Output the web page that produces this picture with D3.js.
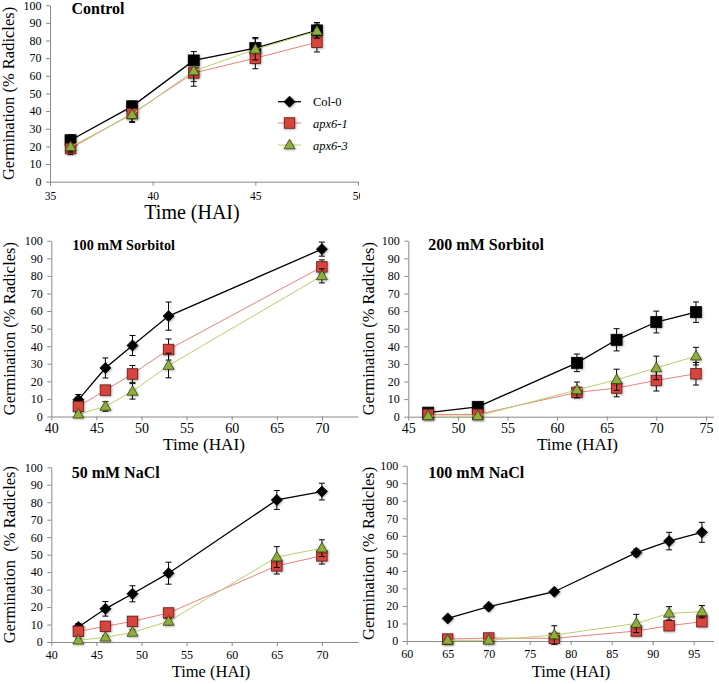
<!DOCTYPE html>
<html><head><meta charset="utf-8">
<script src="https://cdn.jsdelivr.net/npm/d3@7"></script>
<style>body{margin:0;background:#fff}svg text{font-family:"Liberation Serif","Times New Roman",serif}</style>
</head><body><svg id="c" width="719" height="684"></svg>
<script>
const seriesNames = ["Col-0", "apx6-1", "apx6-3"];
const yTicks = [0, 10, 20, 30, 40, 50, 60, 70, 80, 90, 100];

// Control
const controlTime = [36, 39, 42, 45, 48];
const controlCol0 = [23.5, 42.7, 68.7, 75.7, 85.7];
const controlCol0Err = [3, 3, 5, 6, 4.5];
const controlApx61 = [18.8, 38.6, 61.6, 70, 79];
const controlApx61Err = [3.5, 5, 7.5, 6, 5.5];
const controlApx63 = [19.8, 38, 62.7, 75, 85.3];
const controlApx63Err = [3, 4, 6, 6, 4];
const controlXTicks = [35, 40, 45, 50];

// 100 mM Sorbitol
const sorb100Time = [43, 46, 49, 53, 70];
const sorb100Col0 = [9.5, 27.6, 40.4, 57.1, 95.2];
const sorb100Col0Err = [3, 5.7, 5.7, 8, 4];
const sorb100Apx61 = [5.7, 15, 24.2, 38.1, 85.1];
const sorb100Apx61Err = [3, 2, 4.8, 6, 4];
const sorb100Apx63 = [1.3, 5.7, 14.3, 29, 80];
const sorb100Apx63Err = [1, 2.7, 4.4, 7, 4];
const sorb100XTicks = [40, 45, 50, 55, 60, 65, 70];

// 200 mM Sorbitol
const sorb200Time = [47, 52, 62, 66, 70, 74];
const sorb200Col0 = [2.3, 5.6, 30.6, 43.7, 53.8, 59.4];
const sorb200Col0Err = [1, 1, 5, 6.3, 6.2, 5.8];
const sorb200Apx61 = [1.3, 1.3, 13.8, 16.3, 20.6, 24.4];
const sorb200Apx61Err = [1, 1, 3, 5, 6, 6.4];
const sorb200Apx63 = [0.4, 0.4, 15.2, 21, 27.7, 34.4];
const sorb200Apx63Err = [0.5, 0.5, 4.5, 6, 6.7, 5];
const sorb200XTicks = [45, 50, 55, 60, 65, 70, 75];

// 50 mM NaCl
const nacl50Time = [43, 46, 49, 53, 65, 70];
const nacl50Col0 = [8.6, 19, 27.6, 39.4, 81.3, 86.1];
const nacl50Col0Err = [2, 4.2, 4.6, 6.3, 5.4, 4.8];
const nacl50Apx61 = [6.1, 9, 11.8, 16.6, 43.6, 49.3];
const nacl50Apx61Err = [2, 2, 2, 2, 4.7, 4.7];
const nacl50Apx63 = [1, 2.7, 5.5, 11.8, 48.6, 53.7];
const nacl50Apx63Err = [1, 1, 1.5, 2, 6, 4.8];
const nacl50XTicks = [40, 45, 50, 55, 60, 65, 70];

// 100 mM NaCl
const nacl100Time = [65, 70, 78, 88, 92, 96];
const nacl100Col0 = [12.9, 19.6, 28.1, 50.4, 57, 62];
const nacl100Col0Err = [1, 1, 1, 2, 5, 5.7];
const nacl100Apx61 = [1.1, 1.7, 1.5, 5.7, 8.7, 11];
const nacl100Apx61Err = [1, 2, 1, 1, 2.5, 2.5];
const nacl100Apx63 = [0.4, 0.4, 3.4, 10, 15.8, 16.7];
const nacl100Apx63Err = [0.5, 0.5, 5.3, 5.2, 3.8, 3.5];
const nacl100XTicks = [60, 65, 70, 75, 80, 85, 90, 95];

const panelTitles = ["Control", "100 mM Sorbitol", "200 mM Sorbitol", "50 mM NaCl", "100 mM NaCl"];
const yTitles = ["Germination (% Radicles)", "Germination (% Radicles)", "Germination (% Radicles)", "Germination\u00a0\u00a0(% Radicles)", "Germination (% Radicles)"];
const xTitle = "Time (HAI)";

// build panel table from arrays
const panelData = [
  {time: controlTime, vals: [controlCol0, controlApx61, controlApx63], errs: [controlCol0Err, controlApx61Err, controlApx63Err], xTicks: controlXTicks, xDomain: [35, 50]},
  {time: sorb100Time, vals: [sorb100Col0, sorb100Apx61, sorb100Apx63], errs: [sorb100Col0Err, sorb100Apx61Err, sorb100Apx63Err], xTicks: sorb100XTicks, xDomain: [40, 75]},
  {time: sorb200Time, vals: [sorb200Col0, sorb200Apx61, sorb200Apx63], errs: [sorb200Col0Err, sorb200Apx61Err, sorb200Apx63Err], xTicks: sorb200XTicks, xDomain: [45, 80]},
  {time: nacl50Time, vals: [nacl50Col0, nacl50Apx61, nacl50Apx63], errs: [nacl50Col0Err, nacl50Apx61Err, nacl50Apx63Err], xTicks: nacl50XTicks, xDomain: [40, 75]},
  {time: nacl100Time, vals: [nacl100Col0, nacl100Apx61, nacl100Apx63], errs: [nacl100Col0Err, nacl100Apx61Err, nacl100Apx63Err], xTicks: nacl100XTicks, xDomain: [60, 100]}
];

// layout / style (separate from data)
const layout = [
  {xr: [50, 358], yr: [181.7, 5.2], clipR: 360, xFs: 11.5, xPad: 6, titleX: 71.5, titleY: 14, titleFs: 16, yTitleX: 9, yTitleFs: 16.5, xTitleX: 192, xTitleY: 219, xTitleFs: 20, col0Shape: "square"},
  {xr: [51.3, 367], yr: [416.5, 240.7], clipR: 358.5, xFs: 14, xPad: 2.5, titleX: 72.5, titleY: 250, titleFs: 14.2, yTitleX: 10, yTitleFs: 16.5, xTitleX: 204, xTitleY: 450, xTitleFs: 17.2, col0Shape: "diamond"},
  {xr: [408.3, 755.5], yr: [416.7, 240.7], clipR: 714, xFs: 14, xPad: 2.5, titleX: 428.3, titleY: 250, titleFs: 16, yTitleX: 369, yTitleFs: 16.5, xTitleX: 577.5, xTitleY: 450, xTitleFs: 17, col0Shape: "square"},
  {xr: [51.3, 367], yr: [642, 467.3], clipR: 358.5, xFs: 12, xPad: 4.5, titleX: 71.7, titleY: 478.3, titleFs: 16, yTitleX: 10, yTitleFs: 16.5, xTitleX: 211, xTitleY: 676.5, xTitleFs: 16.5, col0Shape: "diamond"},
  {xr: [406.7, 734.7], yr: [641, 465.7], clipR: 714, xFs: 12, xPad: 4.5, titleX: 428.3, titleY: 477.7, titleFs: 16, yTitleX: 369, yTitleFs: 16.5, xTitleX: 571, xTitleY: 676.5, xTitleFs: 16.5, col0Shape: "diamond"}
];

const lineColors = ["#000000", "#e6837f", "#b9d06c"];
const lineWidths = [1.3, 1, 1];
const fillColors = ["#000000", "#d7443d", "#8fae3e"];
const strokeColors = ["#000000", "#5e1a16", "#33420f"];
const axisColor = "#8a8a8a";
const serif = '"Liberation Serif","Times New Roman",serif';

const svg = d3.select("#c");
const defs = svg.append("defs");
const f = defs.append("filter").attr("id", "sh").attr("x", "-50%").attr("y", "-50%").attr("width", "200%").attr("height", "200%");
f.append("feDropShadow").attr("dx", 0.8).attr("dy", 0.8).attr("stdDeviation", 1.2).attr("flood-color", "#000").attr("flood-opacity", 0.35);

function marker(sel, shape, cx, cy, si) {
  let node;
  if (shape === "square") {
    const s = si === 0 ? 11 : 10.5;
    node = sel.append("rect").attr("x", cx - s / 2).attr("y", cy - s / 2).attr("width", s).attr("height", s);
  } else if (shape === "diamond") {
    const r = 5.5;
    node = sel.append("path").attr("d", `M${cx},${cy - r}L${cx + r},${cy}L${cx},${cy + r}L${cx - r},${cy}Z`);
  } else {
    const w = 11, h = 9.5;
    node = sel.append("path").attr("d", `M${cx},${cy - h * 0.6}L${cx + w / 2},${cy + h * 0.4}L${cx - w / 2},${cy + h * 0.4}Z`);
  }
  node.attr("fill", fillColors[si]).attr("stroke", strokeColors[si]).attr("stroke-width", 0.8).attr("filter", "url(#sh)");
}

panelData.forEach((pd, i) => {
  const L = layout[i];
  const g = svg.append("g");
  const x = d3.scaleLinear().domain(pd.xDomain).range(L.xr);
  const y = d3.scaleLinear().domain([0, 100]).range(L.yr);

  // clip rect in the axis group's own (translated) coordinates
  defs.append("clipPath").attr("id", "clip" + i).append("rect")
    .attr("x", L.xr[0] - 30).attr("y", -5).attr("width", L.clipR - L.xr[0] + 30).attr("height", 40);

  const xa = g.append("g").attr("transform", `translate(0,${L.yr[0]})`).attr("clip-path", `url(#clip${i})`)
    .call(d3.axisBottom(x).tickValues(pd.xTicks).tickSize(4).tickSizeOuter(0).tickPadding(L.xPad).tickFormat(d3.format("d")));
  xa.attr("font-family", serif).attr("font-size", L.xFs);
  xa.select(".domain").attr("stroke", axisColor);
  xa.selectAll(".tick line").attr("stroke", axisColor);
  xa.selectAll(".tick text").attr("fill", "#000").style("font-family", serif).style("font-size", L.xFs + "px");

  const ya = g.append("g").attr("transform", `translate(${L.xr[0]},0)`)
    .call(d3.axisLeft(y).tickValues(yTicks).tickSize(4).tickSizeOuter(0).tickPadding(4.5));
  ya.attr("font-family", serif).attr("font-size", 12);
  ya.select(".domain").attr("stroke", axisColor);
  ya.selectAll(".tick line").attr("stroke", axisColor);
  ya.selectAll(".tick text").attr("fill", "#000").style("font-family", serif).style("font-size", "12px");

  // series
  pd.vals.forEach((vals, si) => {
    const pts = pd.time.map((t, k) => [t, vals[k], pd.errs[si][k]]);
    g.append("path").attr("fill", "none").attr("stroke", lineColors[si]).attr("stroke-width", lineWidths[si])
      .attr("d", d3.line().x(d => x(d[0])).y(d => y(d[1]))(pts));
    const eb = g.append("g").attr("stroke", "#000").attr("stroke-width", 1);
    pts.forEach(d => {
      const cx = x(d[0]);
      eb.append("line").attr("x1", cx).attr("x2", cx).attr("y1", y(d[1] - d[2])).attr("y2", y(d[1] + d[2]));
      eb.append("line").attr("x1", cx - 3).attr("x2", cx + 3).attr("y1", y(d[1] - d[2])).attr("y2", y(d[1] - d[2]));
      eb.append("line").attr("x1", cx - 3).attr("x2", cx + 3).attr("y1", y(d[1] + d[2])).attr("y2", y(d[1] + d[2]));
    });
    const shape = si === 0 ? L.col0Shape : (si === 1 ? "square" : "triangle");
    const mg = g.append("g");
    pts.forEach(d => marker(mg, shape, x(d[0]), y(d[1]), si));
  });

  // titles
  g.append("text").attr("x", L.titleX).attr("y", L.titleY).attr("font-weight", "bold")
    .style("font-size", L.titleFs + "px").text(panelTitles[i]);
  const ymid = (L.yr[0] + L.yr[1]) / 2;
  g.append("text").attr("transform", `translate(${L.yTitleX + 5},${ymid}) rotate(-90)`)
    .attr("text-anchor", "middle").style("font-size", L.yTitleFs + "px").text(yTitles[i]);
  g.append("text").attr("x", L.xTitleX).attr("y", L.xTitleY).attr("text-anchor", "middle")
    .style("font-size", L.xTitleFs + "px").text(xTitle);
});

// legend (Control panel)
const legY = [101.7, 123, 145];
const leg = svg.append("g");
seriesNames.forEach((n, si) => {
  leg.append("line").attr("x1", 278).attr("x2", 301).attr("y1", legY[si]).attr("y2", legY[si])
    .attr("stroke", lineColors[si]).attr("stroke-width", lineWidths[si]);
  marker(leg, si === 0 ? "diamond" : (si === 1 ? "square" : "triangle"), 289.5, legY[si], si);
  leg.append("text").attr("x", 313).attr("y", legY[si] + 4.5).style("font-size", "12.5px")
    .attr("font-style", si === 0 ? "normal" : "italic").text(n);
});
</script></body></html>
